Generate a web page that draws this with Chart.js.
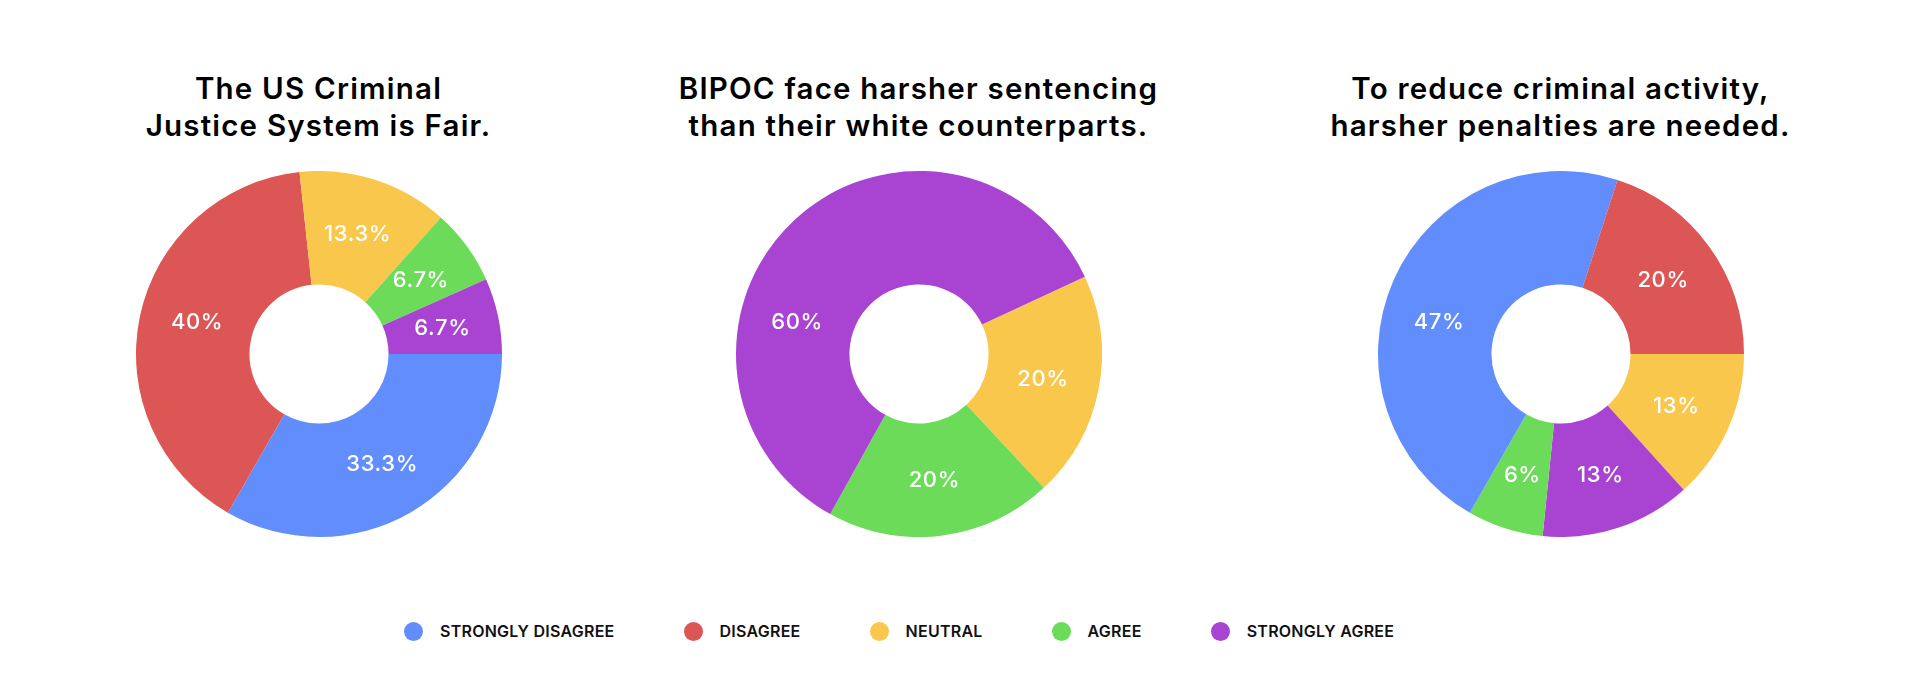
<!DOCTYPE html>
<html>
<head>
<meta charset="utf-8">
<script src="https://cdn.jsdelivr.net/npm/chart.js@4/dist/chart.umd.min.js"></script>
<style>
  html, body { margin: 0; padding: 0; background: #ffffff; }
  #page { position: relative; width: 1920px; height: 700px; overflow: hidden; font-family: Inter, "Noto Sans", sans-serif; }
  .title { position: absolute; top: 70px; width: 700px; margin-left: -350px; text-align: center; font-size: 29.5px; font-weight: 600; line-height: 37.4px; color: #000; letter-spacing: 1.2px; }
  .wrap { position: absolute; top: 171px; width: 366px; height: 366px; margin-left: -183px; }
  #legend { position: absolute; left: 404px; top: 621px; height: 20px; display: flex; align-items: center; gap: 69px; }
  .item { display: flex; align-items: center; }
  .dot { width: 19px; height: 19px; border-radius: 50%; margin-right: 17px; }
  .lbl { font-size: 16px; font-weight: 600; color: #111; letter-spacing: 0.25px; line-height: 20px; }
</style>
</head>
<body>
<div id="page">
  <div class="title" id="t0" style="left:318.5px"></div>
  <div class="title" id="t1" style="left:918.5px"></div>
  <div class="title" id="t2" style="left:1560.5px"></div>
  <div class="wrap" style="left:318.5px"><canvas id="c0"></canvas></div>
  <div class="wrap" style="left:918.5px"><canvas id="c1"></canvas></div>
  <div class="wrap" style="left:1560.5px"><canvas id="c2"></canvas></div>
  <div id="legend"></div>
</div>
<script>
// ---- data ----
const categories = ["STRONGLY DISAGREE", "DISAGREE", "NEUTRAL", "AGREE", "STRONGLY AGREE"];
const categoryColors = ["#618DFD", "#DC5656", "#F9C74B", "#6CDB59", "#A944D2"];

const fairTitle = ["The US Criminal", "Justice System is Fair."];
const fairValues = [33.3, 40, 13.3, 6.7, 6.7];
const fairLabels = ["33.3%", "40%", "13.3%", "6.7%", "6.7%"];

const sentencingTitle = ["BIPOC face harsher sentencing", "than their white counterparts."];
const sentencingValues = [0, 0, 20, 20, 60];
const sentencingLabels = ["", "", "20%", "20%", "60%"];

const penaltiesTitle = ["To reduce criminal activity,", "harsher penalties are needed."];
const penaltiesValues = [46.7, 20, 13.3, 6.7, 13.3];
const penaltiesLabels = ["47%", "20%", "13%", "6%", "13%"];

// drawing order (clockwise) of category indices for each chart
const fairOrder = [0, 1, 2, 3, 4];
const sentencingOrder = [0, 1, 2, 3, 4];
const penaltiesOrder = [2, 4, 3, 0, 1];

// ---- plugin drawing value labels inside slices ----
// Labels sit at the slice's mid-angle on the mid-radius; for very wide slices
// the label is anchored on the left side of the ring (as in the original).
const sliceLabels = {
  id: 'sliceLabels',
  afterDatasetsDraw(chart, args, opts) {
    const ctx = chart.ctx;
    const meta = chart.getDatasetMeta(0);
    const labels = opts.labels || [];
    const TAU = Math.PI * 2;
    const anchor = (opts.wideAngle || 195) * Math.PI / 180;
    ctx.save();
    ctx.font = '500 22px Inter, "Noto Sans", sans-serif';
    ctx.letterSpacing = '0.6px';
    ctx.fillStyle = '#ffffff';
    ctx.textAlign = 'center';
    ctx.textBaseline = 'middle';
    meta.data.forEach((arc, i) => {
      if (!labels[i]) return;
      const p = arc.getProps(['x', 'y', 'startAngle', 'endAngle', 'innerRadius', 'outerRadius', 'circumference']);
      const r = (p.innerRadius + p.outerRadius) / 2;
      let a = (p.startAngle + p.endAngle) / 2;
      if (p.circumference >= 0.39 * TAU) {
        let rel = ((anchor - p.startAngle) % TAU + TAU) % TAU;
        if (rel <= p.circumference) a = p.startAngle + rel;
      }
      ctx.fillText(labels[i], p.x + Math.cos(a) * r, p.y + Math.sin(a) * r + 1);
    });
    ctx.restore();
  }
};

function makeChart(id, values, labels, order, rotation) {
  const data = order.map(i => values[i]);
  const lbls = order.map(i => labels[i]);
  const cols = order.map(i => categoryColors[i]);
  const cats = order.map(i => categories[i]);
  return new Chart(document.getElementById(id), {
    type: 'doughnut',
    data: {
      labels: cats,
      datasets: [{ data: data, backgroundColor: cols, borderWidth: 0, hoverOffset: 0 }]
    },
    options: {
      responsive: true,
      maintainAspectRatio: false,
      animation: false,
      events: [],
      rotation: rotation,
      cutout: '38%',
      layout: { padding: 0 },
      plugins: {
        legend: { display: false },
        tooltip: { enabled: false },
        sliceLabels: { labels: lbls, wideAngle: 195 }
      }
    },
    plugins: [sliceLabels]
  });
}

function setTitle(id, lines) {
  const el = document.getElementById(id);
  lines.forEach((l, k) => {
    if (k) el.appendChild(document.createElement('br'));
    el.appendChild(document.createTextNode(l));
  });
}

setTitle('t0', fairTitle);
setTitle('t1', sentencingTitle);
setTitle('t2', penaltiesTitle);

makeChart('c0', fairValues, fairLabels, fairOrder, 90);
makeChart('c1', sentencingValues, sentencingLabels, sentencingOrder, 65);
makeChart('c2', penaltiesValues, penaltiesLabels, penaltiesOrder, 90);

// ---- legend ----
const legend = document.getElementById('legend');
categories.forEach((c, i) => {
  const item = document.createElement('div');
  item.className = 'item';
  const dot = document.createElement('div');
  dot.className = 'dot';
  dot.style.background = categoryColors[i];
  const t = document.createElement('span');
  t.className = 'lbl';
  t.textContent = c;
  item.appendChild(dot);
  item.appendChild(t);
  legend.appendChild(item);
});
</script>
</body>
</html>
